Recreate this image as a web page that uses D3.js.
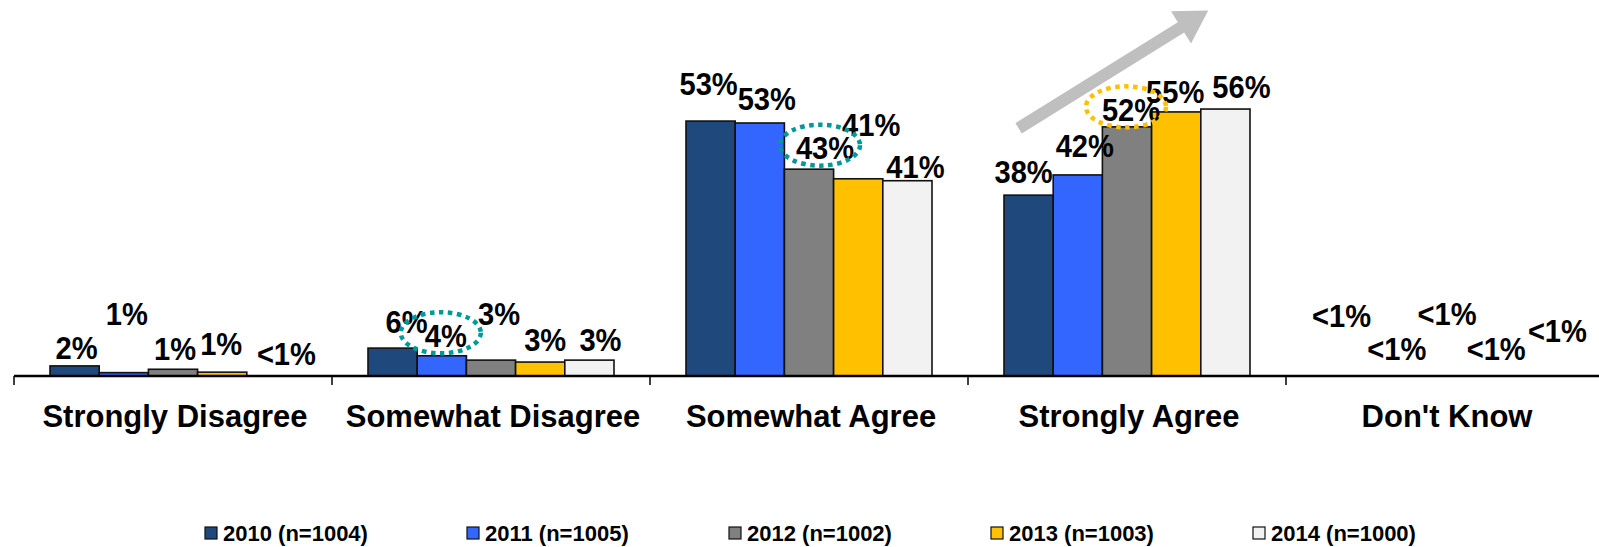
<!DOCTYPE html>
<html><head><meta charset="utf-8">
<script src="https://cdn.jsdelivr.net/npm/d3@7/dist/d3.min.js"></script>
<style>body{margin:0;background:#fff}svg{display:block}text{font-family:"Liberation Sans",Arial,sans-serif;font-weight:bold}</style>
</head><body><svg id="c" width="1599" height="547"></svg>
<script>
// ---- data ----
const categories = ["Strongly Disagree","Somewhat Disagree","Somewhat Agree","Strongly Agree","Don't Know"];
const series = ["2010 (n=1004)","2011 (n=1005)","2012 (n=1002)","2013 (n=1003)","2014 (n=1000)"];
const v2010 = [2.1, 5.8, 53.0, 37.6, 0];
const v2011 = [0.7, 4.2, 52.6, 41.8, 0];
const v2012 = [1.4, 3.3, 43.0, 51.8, 0];
const v2013 = [0.8, 2.9, 41.0, 54.9, 0];
const v2014 = [0.0, 3.3, 40.6, 55.5, 0];
const l2010 = ["2%","6%","53%","38%","<1%"];
const l2011 = ["1%","4%","53%","42%","<1%"];
const l2012 = ["1%","3%","43%","52%","<1%"];
const l2013 = ["1%","3%","41%","55%","<1%"];
const l2014 = ["<1%","3%","41%","56%","<1%"];
const values = [v2010, v2011, v2012, v2013, v2014];
const labels = [l2010, l2011, l2012, l2013, l2014];
// highlighted labels: [category index, series index]
const highlights = [[1,1,"#00999A"],[2,2,"#00999A"],[3,2,"#FFC000"]];

// ---- styles / layout ----
const colors = ["#1F497D","#3366FF","#808080","#FFC000","#F2F2F2"];
// manual label nudges (dx, dy) as placed in the original chart, per category then series
const nudge = [
  [[2,0],[3,-41],[2,-2],[-1,-10],[15,-4]],
  [[14,-8],[4,-2],[8,-28],[5,-4],[11,-2]],
  [[-2,-19],[7,-6],[16,-3],[13,-36],[8,4]],
  [[-5,-5],[7,-11],[4,1],[-1,-2],[16,-4]],
  [[-5,-42],[1,-9],[2,-44],[2,-9],[14,-27]]
];

const svg = d3.select("#c");
const base = 376;
const x0 = d3.scaleBand().domain(categories).range([14, 14 + 318*5]);
const x1 = d3.scaleBand().domain(d3.range(series.length)).range([36, 282]);
const y = d3.scaleLinear().domain([0, 60]).range([base, base - 4.81*60]);

const rows = [];
categories.forEach((c, ci) => series.forEach((s, si) => rows.push({c, ci, si, v: values[si][ci], l: labels[si][ci]})));

// arrow (behind)
{
  const sx = x0("Strongly Agree") + x1(0) + x1.bandwidth()/2 - 10, sy = y(51.5);
  const ex = x0("Strongly Agree") + x1(3) + x1.bandwidth()/2 + 32, ey = y(76);
  const dx = ex - sx, dy = ey - sy, L = Math.hypot(dx, dy);
  const ux = dx/L, uy = dy/L, px = -uy, py = ux;
  const hw = 6, hh = 19, hl = 32;
  const bx = ex - ux*hl, by = ey - uy*hl;
  const pts = [[sx+px*hw, sy+py*hw],[bx+px*hw, by+py*hw],[bx+px*hh, by+py*hh],[ex, ey],[bx-px*hh, by-py*hh],[bx-px*hw, by-py*hw],[sx-px*hw, sy-py*hw]];
  svg.append("polygon").attr("points", pts.map(p => p.join(",")).join(" ")).attr("fill", "#BFBFBF");
}

// bars
svg.append("g").selectAll("rect").data(rows.filter(d => d.v > 0)).join("rect")
  .attr("x", d => x0(d.c) + x1(d.si))
  .attr("y", d => y(d.v))
  .attr("width", x1.bandwidth())
  .attr("height", d => base - y(d.v))
  .attr("fill", d => colors[d.si])
  .attr("stroke", "#111").attr("stroke-width", 1.6);

// axis
svg.append("line").attr("x1", 14).attr("x2", 1599).attr("y1", base).attr("y2", base).attr("stroke", "#000").attr("stroke-width", 2.5);
svg.append("g").selectAll("line").data(categories).join("line")
  .attr("x1", d => x0(d)).attr("x2", d => x0(d)).attr("y1", base).attr("y2", base + 9)
  .attr("stroke", "#000").attr("stroke-width", 1.5);
svg.append("g").selectAll("text").data(categories).join("text")
  .attr("transform", d => `translate(${x0(d) + x0.bandwidth()/2 + 2},427) scale(1,1.03)`)
  .attr("text-anchor", "middle").attr("font-size", 31).attr("fill", "#000").text(d => d);

// value labels
const lx = d => x0(d.c) + x1(d.si) + x1.bandwidth()/2 + nudge[d.ci][d.si][0];
const ly = d => y(d.v) - 7 + nudge[d.ci][d.si][1];
svg.append("g").selectAll("text").data(rows).join("text")
  .attr("transform", d => `translate(${lx(d)},${ly(d)}) scale(0.97,1.07)`)
  .attr("text-anchor", "middle")
  .attr("font-size", 30).attr("fill", "#000").text(d => d.l);

// highlight ellipses
svg.append("g").selectAll("ellipse").data(highlights.map(h => ({r: rows.find(r => r.ci === h[0] && r.si === h[1]), col: h[2]}))).join("ellipse")
  .attr("cx", d => lx(d.r) - 5).attr("cy", d => ly(d.r) - 14)
  .attr("rx", 40).attr("ry", 20.5)
  .attr("fill", "none").attr("stroke", d => d.col).attr("stroke-width", 4.5).attr("stroke-dasharray", "4.5,4.5");

// legend
const lg = svg.append("g").selectAll("g").data(series).join("g")
  .attr("transform", (d, i) => `translate(${205 + i*262},527)`);
lg.append("rect").attr("width", 12).attr("height", 12).attr("fill", (d, i) => colors[i]).attr("stroke", "#111").attr("stroke-width", 1.2);
lg.append("text").attr("x", 18).attr("y", 14).attr("font-size", 22).attr("fill", "#000").text(d => d);
</script></body></html>
